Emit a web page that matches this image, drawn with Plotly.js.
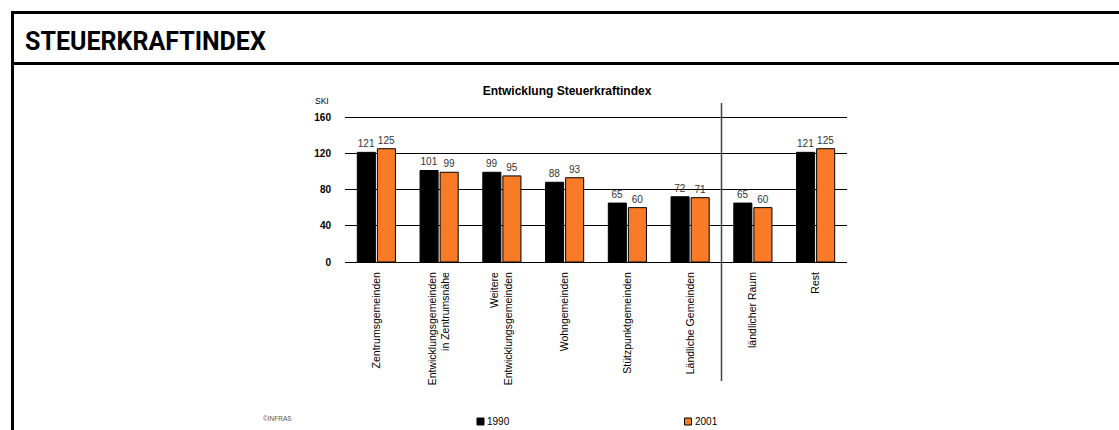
<!DOCTYPE html>
<html>
<head>
<meta charset="utf-8">
<script src="https://cdn.plot.ly/plotly-3.0.1.min.js"></script>
<style>html,body{margin:0;padding:0;background:#fff;}#chart{width:1119px;height:430px;}</style>
</head>
<body>
<div id="chart"></div>
<script>
const pageTitle = "STEUERKRAFTINDEX";
const chartTitle = "Entwicklung Steuerkraftindex";
const yAxisLabel = "SKI";
const credit = "©INFRAS";
const categories = [
  "Zentrumsgemeinden",
  "Entwicklungsgemeinden<br>in Zentrumsnähe",
  "Weitere<br>Entwicklungsgemeinden",
  "Wohngemeinden",
  "Stützpunktgemeinden",
  "Ländliche Gemeinden",
  "ländlicher Raum",
  "Rest"
];
const seriesNames = ["1990", "2001"];
const values1990 = [121, 101, 99, 88, 65, 72, 65, 121];
const values2001 = [125, 99, 95, 93, 60, 71, 60, 125];
const yTicks = [0, 40, 80, 120, 160];

const W = 1119, H = 430;
// y=0 at 262px, y=160 at 117px; plot area extended 2px above so the 160 gridline is drawn
const zeroY = 262, topTickY = 117, plotT = 115;
const plotL = 345, plotR = 847, plotB = zeroY;
const yMax = 160 * (zeroY - plotT) / (zeroY - topTickY);
const px = x => (x - plotL) / (plotR - plotL);
const py = y => (plotB - y) / (plotB - plotT);
const colors = ["#000000", "#F97B27"];
const font = "Liberation Sans, Arial, sans-serif";

const xIdx = categories.map((c, i) => i);
function barTrace(vals, name, color) {
  return {
    type: "bar", x: xIdx, y: vals, name: name,
    marker: {color: color, line: {color: "#000", width: 1}},
    texttemplate: "%{y}", textposition: "outside", cliponaxis: false,
    textfont: {family: font, size: 10, color: "#333"},
    hoverinfo: "skip", showlegend: false
  };
}
const data = [
  barTrace(values1990, seriesNames[0], colors[0]),
  barTrace(values2001, seriesNames[1], colors[1])
];

const shapes = [
  {type: "line", xref: "paper", yref: "paper", x0: px(12.5), x1: px(12.5), y0: py(11), y1: py(440), line: {color: "#000", width: 3}},
  {type: "line", xref: "paper", yref: "paper", x0: px(11), x1: px(1125), y0: py(12.5), y1: py(12.5), line: {color: "#000", width: 3}},
  {type: "line", xref: "paper", yref: "paper", x0: px(11), x1: px(1125), y0: py(63.5), y1: py(63.5), line: {color: "#000", width: 3}},
  {type: "line", xref: "x", yref: "paper", x0: categories.length - 2.5, x1: categories.length - 2.5, y0: py(103), y1: py(381), line: {color: "#444", width: 1.5}},
  // legend swatches
  {type: "rect", xref: "paper", yref: "paper", x0: px(477), x1: px(484), y0: py(418), y1: py(425), fillcolor: colors[0], line: {color: "#000", width: 1}},
  {type: "rect", xref: "paper", yref: "paper", x0: px(684.5), x1: px(691.5), y0: py(418), y1: py(425), fillcolor: colors[1], line: {color: "#000", width: 1}}
];

const annotations = [
  {xref: "paper", yref: "paper", x: px(23), y: py(41.5), xanchor: "left", yanchor: "middle", showarrow: false,
   text: "<b>" + pageTitle + "</b>", font: {family: "Roboto, sans-serif", size: 25, color: "#000"}},
  {xref: "paper", yref: "paper", x: px(322), y: py(101), xanchor: "center", yanchor: "middle", showarrow: false,
   text: yAxisLabel, font: {family: font, size: 8.5, color: "#000"}},
  {xref: "paper", yref: "paper", x: px(277), y: py(418), xanchor: "center", yanchor: "middle", showarrow: false,
   text: credit, font: {family: font, size: 6.5, color: "#555"}},
  {xref: "paper", yref: "paper", x: px(485), y: py(421.5), xanchor: "left", yanchor: "middle", showarrow: false,
   text: seriesNames[0], font: {family: font, size: 10, color: "#000"}},
  {xref: "paper", yref: "paper", x: px(692.5), y: py(421.5), xanchor: "left", yanchor: "middle", showarrow: false,
   text: seriesNames[1], font: {family: font, size: 10, color: "#000"}}
];

const layout = {
  width: W, height: H,
  margin: {l: plotL, r: W - plotR, t: plotT, b: H - plotB, pad: 0},
  paper_bgcolor: "#fff", plot_bgcolor: "#fff",
  title: {text: "<b>" + chartTitle + "</b>", x: 567 / W, xanchor: "center", xref: "container",
          y: 1 - 91 / H, yanchor: "middle", yref: "container",
          font: {family: font, size: 12, color: "#000"}},
  barmode: "group", bargap: 0.36, bargroupgap: 0.1,
  showlegend: false,
  xaxis: {
    tickmode: "array", tickvals: xIdx, ticktext: categories,
    range: [-0.5, categories.length - 0.5],
    tickangle: -90, ticks: "", showgrid: false, zeroline: false, showline: false,
    ticklabelstandoff: 7,
    tickfont: {family: font, size: 10.5, color: "#000"}
  },
  yaxis: {
    range: [0, yMax], tickmode: "array", tickvals: yTicks, ticktext: yTicks.map(String),
    showgrid: true, gridcolor: "#000", gridwidth: 1,
    zeroline: true, zerolinecolor: "#000", zerolinewidth: 1,
    showline: false, ticks: "", ticklabelstandoff: 13,
    tickfont: {family: font, size: 10, color: "#000", weight: "bold"}
  },
  shapes: shapes,
  annotations: annotations
};

Plotly.newPlot("chart", data, layout, {displayModeBar: false, staticPlot: true});
</script>
</body>
</html>
